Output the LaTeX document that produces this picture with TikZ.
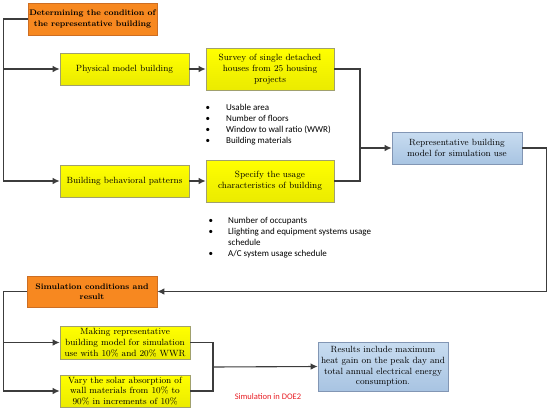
\documentclass[tikz,border=0pt]{standalone}
\usepackage{fontspec}
\newfontfamily\listfont{Carlito}
\usepackage{tikz}
\usetikzlibrary{arrows}
\usetikzlibrary{arrows.meta}
\usetikzlibrary{positioning}
\usetikzlibrary{shadows}
\definecolor{hdrfill}{RGB}{247,136,32}
\definecolor{hdredge}{RGB}{205,110,35}
\definecolor{yedge}{RGB}{160,160,110}
\definecolor{bluetop}{RGB}{200,220,240}
\definecolor{bluebot}{RGB}{168,196,226}
\definecolor{bedge}{RGB}{130,150,180}
\definecolor{linegray}{RGB}{60,60,60}
\definecolor{simred}{RGB}{232,30,36}
\tikzset{>=latex}
\tikzstyle{box} = [draw, line width=0.6pt, align=center, inner sep=0,
  font=\fontsize{9}{10.8}\selectfont,
  drop shadow={shadow xshift=1.2pt, shadow yshift=-1.2pt, opacity=0.35}]
\tikzstyle{hdr} = [box, fill=hdrfill, draw=hdredge, font=\fontsize{8.1}{10.6}\selectfont\bfseries]
\tikzstyle{ybox} = [box, top color=yellow, bottom color=yellow!92!black, draw=yedge]
\tikzstyle{bbox} = [box, top color=bluetop, bottom color=bluebot, draw=bedge]
\tikzstyle{con} = [draw=linegray, line width=1.1pt]
\tikzstyle{tip} = [con, -{Latex[length=7pt,width=6.5pt]}]
\tikzstyle{notes} = [inner sep=0, anchor=north west, font=\listfont\fontsize{9}{11}\selectfont]

\begin{document}
\begin{tikzpicture}[x=1pt, y=-1pt]
\useasboundingbox (0,0) rectangle (550,413);
% first stage
\node [hdr, minimum width=129, minimum height=32] (det) at (92.5, 19) {Determining the condition of\\the representative building};
\node [ybox, minimum width=129, minimum height=32] (phys) at (124.5, 69) {Physical model building};
\node [ybox, minimum width=128, minimum height=42] (survey) at (270, 69) {Survey of single detached\\houses from 25 housing\\projects};
\node [ybox, minimum width=129, minimum height=32] (behav) at (124.5, 181) {Building behavioral patterns};
\node [ybox, minimum width=128, minimum height=42] (spec) at (270, 181) {Specify the usage\\characteristics of building};
\node [bbox, minimum width=130, minimum height=32] (rep) at (457, 148) {Representative building\\model for simulation use};
\node [notes] (phylist) at (205.5, 102.5) {%
  \begin{tabular}{@{}p{20.5pt}@{}l@{}}
  \textbullet & Usable area\\
  \textbullet & Number of floors\\
  \textbullet & Window to wall ratio (WWR)\\
  \textbullet & Building materials
  \end{tabular}};
\node [notes] (uselist) at (208.5, 215.5) {%
  \begin{tabular}{@{}p{19.5pt}@{}l@{}}
  \textbullet & Number of occupants\\
  \textbullet & Llighting and equipment systems usage\\
              & schedule\\
  \textbullet & A/C system usage schedule
  \end{tabular}};
% second stage
\node [hdr, minimum width=130, minimum height=31] (sim) at (92, 291.5) {Simulation conditions and\\result};
\node [ybox, minimum width=130, minimum height=33] (make) at (125, 342.5) {Making representative\\building model for simulation\\use with 10\% and 20\% WWR};
\node [ybox, minimum width=130, minimum height=32] (vary) at (125, 391) {Vary the solar absorption of\\wall materials from 10\% to\\90\% in increments of 10\%};
\node [bbox, minimum width=130, minimum height=49] (res) at (383, 366.5) {Results include maximum\\heat gain on the peak day and\\total annual electrical energy\\consumption.};
\node [inner sep=0, text=simred, font=\listfont\fontsize{8.5}{10}\selectfont] (doe) at (268, 397) {Simulation in DOE2};
\coordinate (join1) at (360, 148);
\coordinate (join2) at (213, 367);
% connectors
\draw [tip] (det.west) -- ++(-24, 0) |- (phys.west);
\draw [tip] (det.west) -- ++(-24, 0) |- (behav.west);
\draw [tip] (phys) to (survey);
\draw [tip] (behav) to (spec);
\draw [con] (survey.east) -| (join1);
\draw [con] (spec.east) -| (join1);
\draw [tip] (join1) to (rep.west);
\draw [tip] (rep.east) -- ++(24, 0) |- (sim.east);
\draw [tip] (sim.west) -- ++(-23, 0) |- (make.west);
\draw [tip] (sim.west) -- ++(-23, 0) |- (vary.west);
\draw [con] (make.east) -| (join2);
\draw [con] (vary.east) -| (join2);
\draw [tip] (join2) to (res.west);
\end{tikzpicture}
\end{document}
